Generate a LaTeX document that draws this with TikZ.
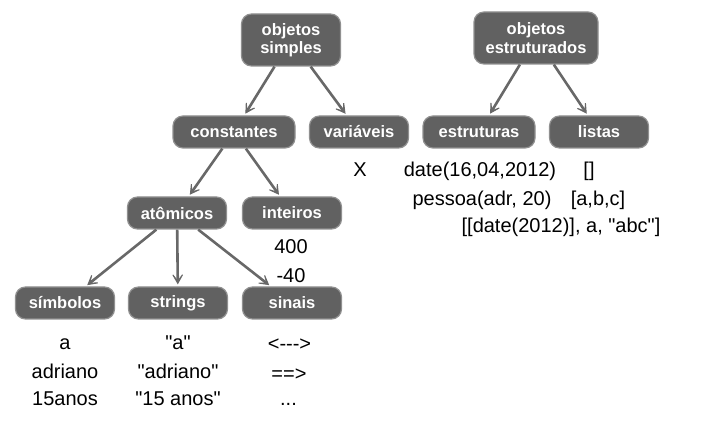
\documentclass[tikz,border=0pt]{standalone}
\usepackage{fontspec}
\setmainfont{Liberation Sans}[Ligatures=TeXOff]
\usepackage{xcolor}
\usepackage{tikz}
\usetikzlibrary{arrows.meta}
\definecolor{boxgray}{RGB}{97,97,97}
\definecolor{linegray}{RGB}{104,104,104}

\begin{document}
\begin{tikzpicture}[
    x=0.5pt, y=-0.5pt,
    box/.style={rectangle, rounded corners=5pt, draw=boxgray!70!white, line width=0.6pt, fill=boxgray, text=white, minimum width=49.5pt, minimum height=16pt, inner xsep=3pt, inner ysep=3pt, align=center, font=\fontsize{8.25}{9.2}\selectfont\bfseries},
    val/.style={anchor=base, inner sep=0pt, font=\fontsize{10}{12}\selectfont},
    arrow/.style={-{Stealth[length=8pt, width=9pt, inset=6pt]}, draw=linegray, line width=1.3pt, shorten >=1pt}
]
    \useasboundingbox (0,0) rectangle (715,431);

    \node[box, minimum height=26pt] (simples) at (291,40) {objetos\\simples};
    \node[box, minimum height=26pt, minimum width=62pt] (estruturados) at (536,38) {objetos\\estruturados};
    \node[box, minimum width=61pt] (constantes) at (234,132) {constantes};
    \node[box] (variaveis) at (359,132) {variáveis};
    \node[box, minimum width=56pt] (estruturas) at (479,132) {estruturas};
    \node[box] (listas) at (599,132) {listas};
    \node[box] (atomicos) at (177,213) {atômicos};
    \node[box] (inteiros) at (292,213) {inteiros};
    \node[box] (simbolos) at (65,303) {símbolos};
    \node[box] (strings) at (178,303) {strings};
    \node[box] (sinais) at (292,303) {sinais};

    \draw[arrow] (simples) -- (constantes);
    \draw[arrow] (simples) -- (variaveis);
    \draw[arrow] (estruturados) -- (estruturas);
    \draw[arrow] (estruturados) -- (listas);
    \draw[arrow] (constantes) -- (atomicos);
    \draw[arrow] (constantes) -- (inteiros);
    \draw[arrow] (atomicos) -- (simbolos);
    \draw[arrow] (atomicos) -- (strings);
    \draw[arrow] (atomicos) -- (sinais);

    \node[val] (xvar) at (360,177) {X};
    \node[val] (date) at (480,177) {date(16,04,2012)};
    \node[val] (pessoa) at (482,206) {pessoa(adr, 20)};
    \node[val] (vazia) at (589,177) {[]};
    \node[val] (abc) at (598,206) {[a,b,c]};
    \node[val] (aninhada) at (561,233) {[[date(2012)], a, "abc"]};

    \node[val] (quatrocentos) at (291,253.5) {400};
    \node[val] (negativo) at (291,283) {-40};

    \node[val] (sa) at (65,350) {a};
    \node[val] (sadriano) at (65,379) {adriano};
    \node[val] (sanos) at (65,405) {15anos};

    \node[val] (qa) at (178,350) {"a"};
    \node[val] (qadriano) at (178,379) {"adriano"};
    \node[val] (qanos) at (178,405) {"15 anos"};

    \node[val] (seta) at (289.5,351) {<--->};
    \node[val] (implica) at (289,380) {==>};
    \node[val] (etc) at (288.5,406) {...};
\end{tikzpicture}
\end{document}
